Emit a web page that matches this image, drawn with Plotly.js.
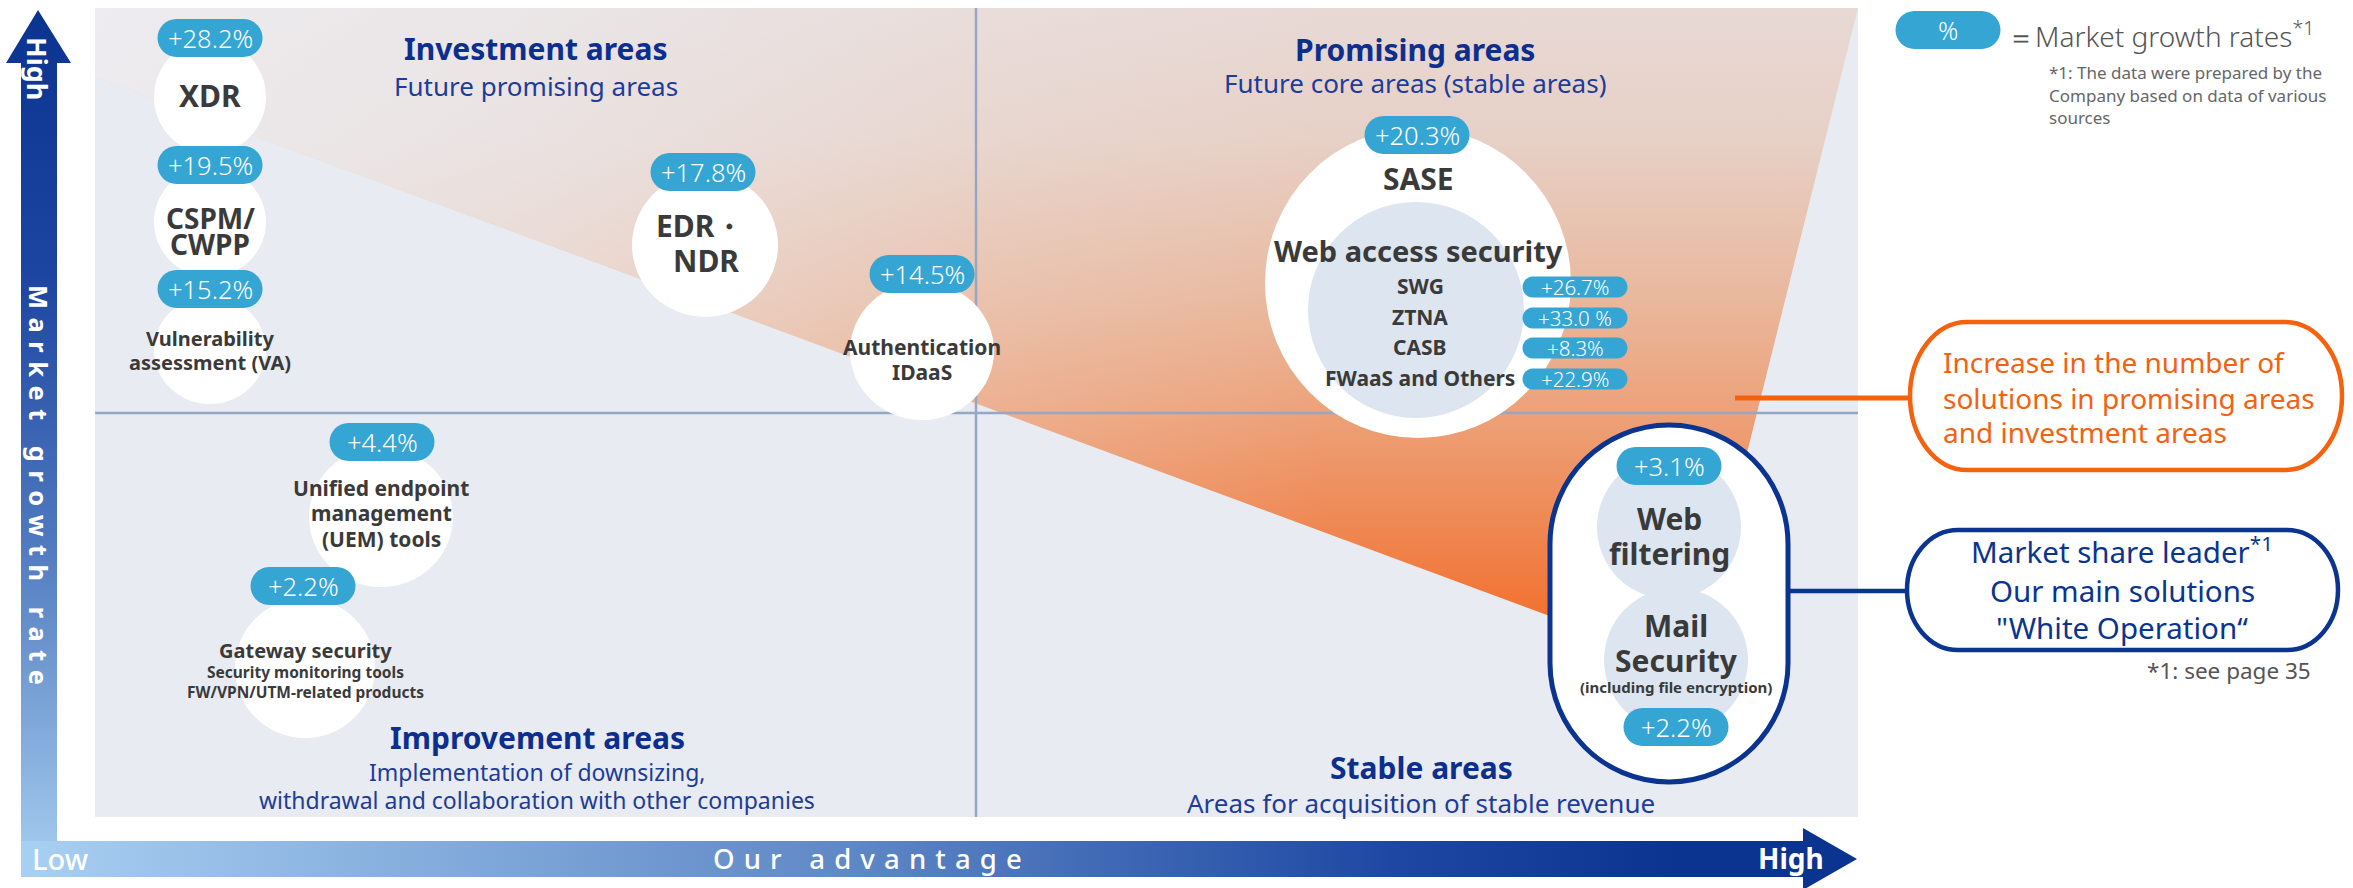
<!DOCTYPE html>
<html><head><meta charset="utf-8">
<script src="https://cdn.plot.ly/plotly-3.0.1.min.js"></script>
<style>html,body{margin:0;padding:0;background:#fff}</style>
</head><body><div id="chart" style="width:2353px;height:888px"></div>
<script>
// ---------------- data ----------------
const solutionLines = [
  ['XDR'], ['CSPM/', 'CWPP'], ['Vulnerability', 'assessment (VA)'], ['EDR・', 'NDR'],
  ['Authentication', 'IDaaS'], ['SASE', 'Web access security'],
  ['Unified endpoint', 'management', '(UEM) tools'],
  ['Gateway security', 'Security monitoring tools', 'FW/VPN/UTM-related products'],
  ['Web', 'filtering'], ['Mail', 'Security', '(including file encryption)']
];
const growthRates = ['+28.2%', '+19.5%', '+15.2%', '+17.8%', '+14.5%', '+20.3%', '+4.4%', '+2.2%', '+3.1%', '+2.2%'];
const saseParts = ['SWG', 'ZTNA', 'CASB', 'FWaaS and Others'];
const saseRates = ['+26.7%', '+33.0 %', '+8.3%', '+22.9%'];
const quadrantTitles = ['Investment areas', 'Promising areas', 'Improvement areas', 'Stable areas'];
const quadrantNotes = [['Future promising areas'], ['Future core areas (stable areas)'],
  ['Implementation of downsizing,', 'withdrawal and collaboration with other companies'],
  ['Areas for acquisition of stable revenue']];
const yAxisLabel = 'Market growth rate';
const xAxisLabel = 'Our advantage';
const lowLabel = 'Low', highLabel = 'High';
const legendBadge = '%';
const legendText = '＝Market growth rates<sup>*1</sup>';
const legendNotes = ['*1: The data were prepared by the', 'Company based on data of various', 'sources'];
const orangeCallout = ['Increase in the number of', 'solutions in promising areas', 'and investment areas'];
const blueCallout = ['Market share leader<sup>*1</sup>', 'Our main solutions', '"White Operation“'];
const blueNote = '*1: see page 35';

// ---------------- geometry / style ----------------
const FONT = 'Noto Sans, Roboto, DejaVu Sans, sans-serif';
const BADGE = '#35a5d4', DARK = '#3a3a3a', NAVY = '#0c2f8e', SUBNAVY = '#1d3c98', ORANGE = '#f4620e', BLUE = '#0a3490';
const bubbleGeom = [
  {cx:210, cy:97,  rx:56, ry:57, bx:210, by:38,  ly:[95],          ls:[30],        fill:'#fff'},
  {cx:210, cy:222, rx:56, ry:55, bx:210, by:165, ly:[218,244],     ls:[28,28],     fill:'#fff'},
  {cx:210, cy:350, rx:56, ry:54, bx:210, by:289, ly:[338,362],     ls:[20,20],     fill:'#fff'},
  {cx:705, cy:245, rx:73, ry:72, bx:703, by:172, ly:[225,260],     ls:[30,30],     fill:'#fff', lx:[700,706]},
  {cx:922, cy:351, rx:72, ry:69, bx:922, by:274, ly:[347,372],     ls:[21,21],     fill:'#fff'},
  {cx:1418,cy:283, rx:153,ry:155,bx:1417,by:135, ly:[178,250],     ls:[30,29],     fill:'#fff'},
  {cx:381, cy:517, rx:72, ry:70, bx:382, by:442, ly:[488,513,539], ls:[21,21,21],  fill:'#fff'},
  {cx:305, cy:668, rx:70, ry:70, bx:303, by:586, ly:[650,672,692], ls:[20,15.5,15.5], fill:'#fff'},
  {cx:1669,cy:527, rx:72, ry:72, bx:1669,by:466, ly:[518,553],     ls:[30,30],     fill:'#dce5f0'},
  {cx:1676,cy:660, rx:72, ry:72, bx:1676,by:727, ly:[625,660,687], ls:[30,30,15],  fill:'#dce5f0'}
];
const badgeW = 105, badgeH = 38;
const saseInner = {cx:1416, cy:310, r:108};
const saseRowY = [286, 317, 347, 378], saseRowX = 1420, saseBadgeX = 1575, saseBadgeW = 105, saseBadgeH = 21;
const quadGeom = [
  {x:536, ty:48, sy:[86], ss:26}, {x:1415, ty:49, sy:[83], ss:26},
  {x:537, ty:737, sy:[772,800], ss:23}, {x:1421, ty:767, sy:[803], ss:26}
];
const panel = {x0:95, y0:8, x1:1858, y1:817};
const cross = {x:976, y:413};
const wedgeX = [95, 1858, 1693, 95], wedgeY = [8, 8, 669, 77];
const vArrowX = [21, 21, 6, 38, 71, 57, 57], vArrowY = [877, 63, 63, 10, 63, 63, 877];
const hArrowX = [21, 1803, 1803, 1857, 1803, 1803, 21], hArrowY = [841, 841, 828, 859, 890, 877, 877];

const shapes = [], annotations = [];
const K = 0.5523;
function rr(x0, y0, x1, y1, rx, ry) {
  const kx = K * rx, ky = K * ry;
  return `M${x0+rx},${y0} L${x1-rx},${y0} C${x1-rx+kx},${y0} ${x1},${y0+ry-ky} ${x1},${y0+ry} L${x1},${y1-ry} ` +
    `C${x1},${y1-ry+ky} ${x1-rx+kx},${y1} ${x1-rx},${y1} L${x0+rx},${y1} C${x0+rx-kx},${y1} ${x0},${y1-ry+ky} ${x0},${y1-ry} ` +
    `L${x0},${y0+ry} C${x0},${y0+ry-ky} ${x0+rx-kx},${y0} ${x0+rx},${y0} Z`;
}
function pathShape(path, fill, line, layer) {
  shapes.push({type:'path', xref:'x', yref:'y', path, fillcolor:fill, line:line || {width:0}, layer:layer || 'above'});
}
function ell(cx, cy, rx, ry, fill, line) {
  shapes.push({type:'circle', xref:'x', yref:'y', x0:cx-rx, x1:cx+rx, y0:cy-ry, y1:cy+ry, fillcolor:fill, line:line || {width:0}, layer:'above'});
}
function seg(x0, y0, x1, y1, color, w) {
  shapes.push({type:'line', xref:'x', yref:'y', x0, y0, x1, y1, line:{color, width:w}, layer:'above'});
}
function txt(x, y, text, size, color, o = {}) {
  annotations.push({x, y, xref:'x', yref:'y', text, showarrow:false, xanchor:o.xa || 'center', yanchor:'middle',
    textangle:o.angle || 0, borderpad:0,
    font:{family:o.family || FONT, size, color, weight:o.weight || 'normal'}});
}
function badge(cx, cy, w, h, label, size) {
  pathShape(rr(cx - w/2, cy - h/2, cx + w/2, cy + h/2, h/2, h/2), BADGE);
  txt(cx, cy, label, size, '#ffffff', {weight:300});
}

shapes.push({type:'rect', xref:'x', yref:'y', x0:panel.x0, y0:panel.y0, x1:panel.x1, y1:panel.y1,
  fillcolor:'#e8ebf1', line:{width:0}, layer:'below'});
seg(cross.x, panel.y0, cross.x, panel.y1, '#98a6c3', 2.5);
seg(panel.x0, cross.y, panel.x1, cross.y, '#98a6c3', 2.5);

seg(1735, 398, 1910, 398, ORANGE, 5);
seg(1788, 591, 1907, 591, BLUE, 4.5);

bubbleGeom.forEach((g, i) => {
  if (i === 8) pathShape(rr(1550, 425, 1788, 782, 119, 119), '#ffffff', {color:BLUE, width:5});
  ell(g.cx, g.cy, g.rx, g.ry, g.fill);
  if (i === 5) ell(saseInner.cx, saseInner.cy, saseInner.r, saseInner.r, '#dce5f0');
});
bubbleGeom.forEach((g, i) => {
  badge(g.bx, g.by, badgeW, badgeH, growthRates[i], 25.5);
  solutionLines[i].forEach((line, j) => {
    const x = g.lx ? g.lx[j] : g.cx;
    txt(x, g.ly[j], line, g.ls[j], DARK, {weight:'bold'});
  });
});
saseParts.forEach((p, j) => {
  txt(saseRowX, saseRowY[j], p, 21, DARK, {weight:'bold'});
  badge(saseBadgeX, saseRowY[j] + 1, saseBadgeW, saseBadgeH, saseRates[j], 20.5);
});

quadGeom.forEach((q, i) => {
  txt(q.x, q.ty, quadrantTitles[i], 30, NAVY, {weight:'bold'});
  quadrantNotes[i].forEach((s, j) => txt(q.x, q.sy[j], s, q.ss, SUBNAVY));
});

badge(1948, 30, 105, 38, legendBadge, 25);
txt(2006, 34, legendText, 28, '#555555', {xa:'left', weight:300});
legendNotes.forEach((s, j) => txt(2048, [72, 95, 117][j], s, 17, '#666666', {xa:'left'}));

pathShape(rr(1910, 322, 2342, 470, 57, 74), '#ffffff', {color:ORANGE, width:4.5});
orangeCallout.forEach((s, j) => txt(1942, [362, 398, 432][j], s, 28, '#f2620f', {xa:'left'}));

pathShape(rr(1907, 530, 2338, 650, 51, 60), '#ffffff', {color:BLUE, width:4.5});
blueCallout.forEach((s, j) => txt(2122, [550, 590, 627][j], s, 29.5, BLUE));
txt(2312, 670, blueNote, 22.5, '#555555', {xa:'right'});

const spaced = s => s.split(' ').map(w => w.split('').join('\u2004')).join('\u2003');
txt(38, 68, highLabel, 27, '#ffffff', {angle:90, weight:'bold'});
txt(39, 485, spaced(yAxisLabel), 25.5, '#ffffff', {angle:90, weight:'bold'});
txt(60, 858, lowLabel, 29, '#ffffff', {weight:500});
txt(867, 858, spaced(xAxisLabel), 27.5, '#ffffff', {weight:500});
txt(1791, 858, highLabel, 28, '#ffffff', {weight:'bold'});

const traces = [
  {type:'scatter', x:wedgeX, y:wedgeY, mode:'none', fill:'toself', hoverinfo:'skip',
   fillgradient:{type:'vertical', start:8, stop:669,
     colorscale:[[0,'#e8d9d5'],[0.2,'#e7d0c6'],[0.44,'#e9b89d'],[0.62,'#eda077'],[0.82,'#f0824a'],[1,'#f4651b']]}},
  {type:'scatter', x:wedgeX, y:wedgeY, mode:'none', fill:'toself', hoverinfo:'skip',
   fillgradient:{type:'horizontal', start:95, stop:1858,
     colorscale:[[0,'rgba(238,239,244,0.85)'],[0.25,'rgba(236,238,243,0.6)'],[0.5,'rgba(236,238,243,0.2)'],[0.7,'rgba(236,238,243,0)'],[1,'rgba(236,238,243,0)']]}},
  {type:'scatter', x:vArrowX, y:vArrowY, mode:'none', fill:'toself', hoverinfo:'skip',
   fillgradient:{type:'vertical', start:10, stop:877,
     colorscale:[[0,'#0a3490'],[0.3,'#1c44a1'],[0.6,'#4d77bd'],[1,'#a8cff0']]}},
  {type:'scatter', x:hArrowX, y:hArrowY, mode:'none', fill:'toself', hoverinfo:'skip',
   fillgradient:{type:'horizontal', start:21, stop:1857,
     colorscale:[[0,'#a8d0f2'],[0.45,'#5f88c6'],[0.75,'#1d47a2'],[0.9,'#0a3490'],[1,'#0a3490']]}}
];

const layout = {
  width:2353, height:888, margin:{l:0, r:0, t:0, b:0},
  paper_bgcolor:'#ffffff', plot_bgcolor:'#ffffff',
  xaxis:{range:[0, 2353], visible:false, fixedrange:true},
  yaxis:{range:[888, 0], visible:false, fixedrange:true},
  showlegend:false, shapes, annotations
};
Plotly.newPlot('chart', traces, layout, {displayModeBar:false, staticPlot:true});
</script>
</body></html>
